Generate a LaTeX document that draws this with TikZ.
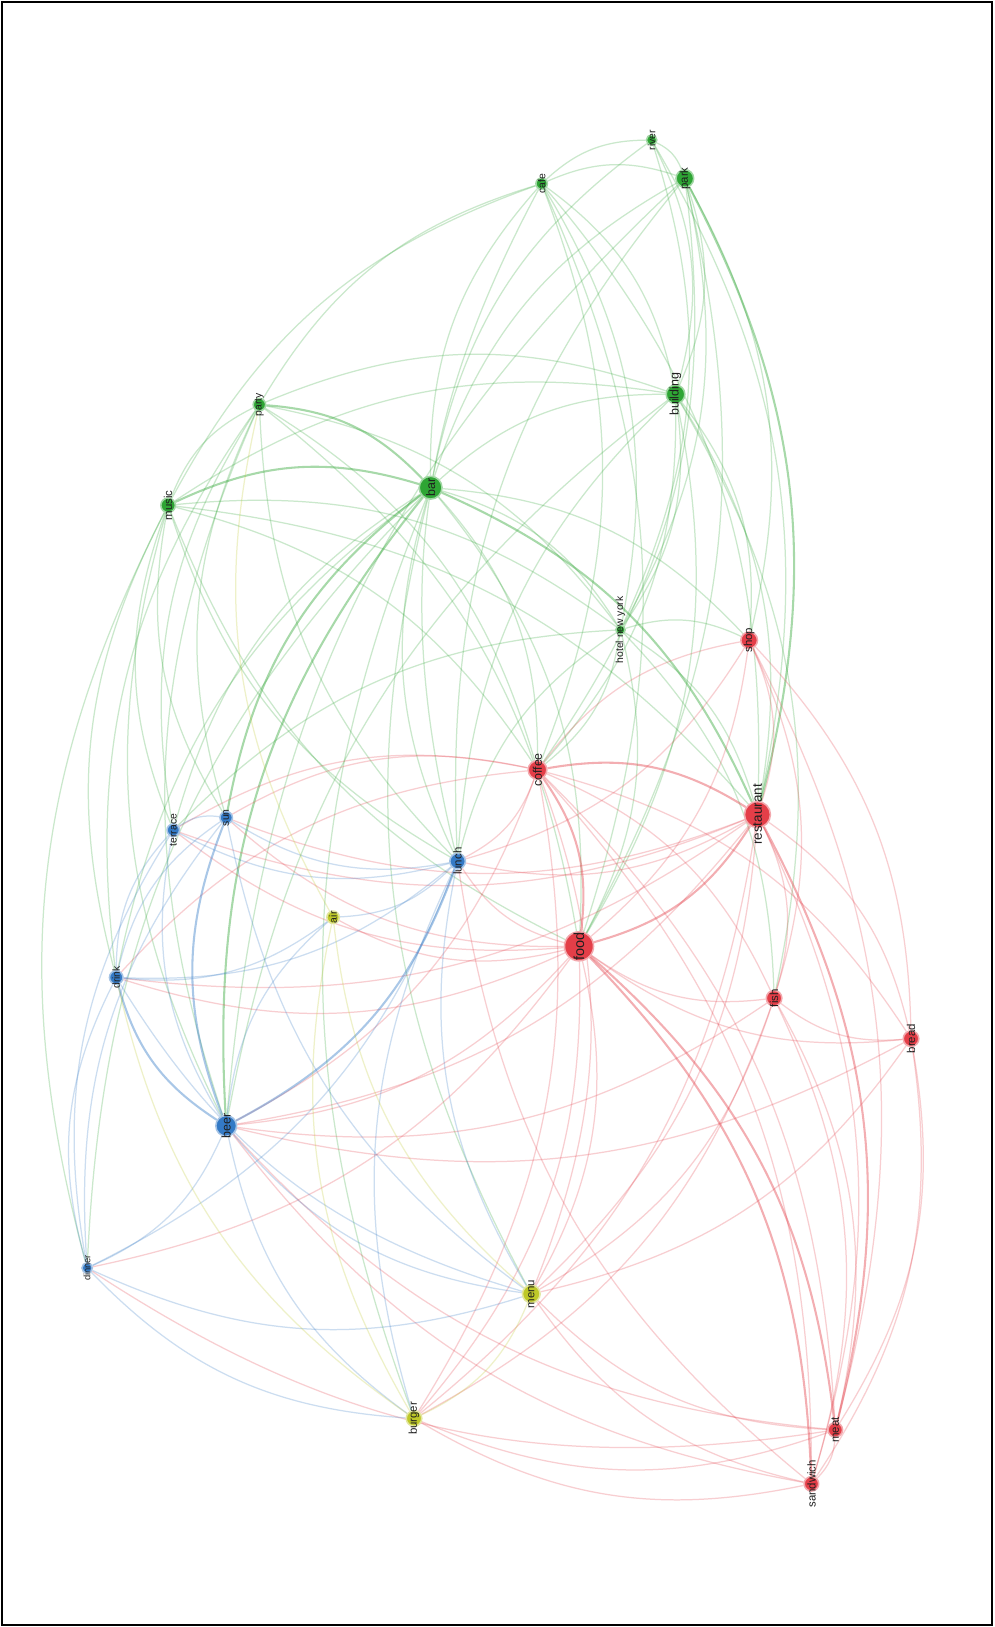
\documentclass[tikz,border=0pt]{standalone}
\usepackage{fontspec}
\setmainfont{Liberation Sans}
\pgfdeclarelayer{back}
\pgfdeclarelayer{bg}
\pgfsetlayers{back,bg,main}
\definecolor{cg}{RGB}{46,165,52}
\definecolor{cr}{RGB}{228,62,72}
\definecolor{cb}{RGB}{52,122,198}
\definecolor{cy}{RGB}{190,200,40}
\tikzset{
  dot/.style={circle, inner sep=0pt, draw=#1!45, line width=1.5pt, fill=#1},
  lbl/.style={rotate=90, text=black!88, inner sep=0pt},
  e/.style={draw=#1, draw opacity=0.25, line width=1.2pt},
  es/.style={draw=#1, draw opacity=0.42, line width=2pt},
  frame/.style={draw=black, line width=1.2pt}
}
\newcommand\place[7]{%
  \expandafter\def\csname nx#1\endcsname{#2}%
  \expandafter\def\csname ny#1\endcsname{#3}%
  \node[dot=#4, minimum size=#5pt] (#1) at (#2,#3) {};
  \node[lbl, font=\fontsize{#7}{#7}\selectfont] (#1-t) at (#1) {#6};
}
\newcommand\lnk[4][e]{%
  \pgfmathsetmacro\crs{((\csname nx#3\endcsname-480)/100)*((\csname ny#4\endcsname-\csname ny#3\endcsname)/100)-((\csname ny#3\endcsname-780)/100)*((\csname nx#4\endcsname-\csname nx#3\endcsname)/100)}%
  \pgfmathsetmacro\bnd{-21+42*(\crs>0)}%
  \begin{pgfonlayer}{bg}
  \draw[#1=#2] (#3) to[bend left=\bnd] (#4);
  \end{pgfonlayer}
}
\begin{document}
\begin{tikzpicture}[x=1pt,y=-1pt]
\useasboundingbox (0,0) rectangle (958,1568);
\begin{pgfonlayer}{back}
\fill[white] (0,0) rectangle (958,1568);
\end{pgfonlayer}
\draw[frame] (2,2) rectangle (956,1566);
% green
\place{river}{628}{135}{cg}{10}{river}{10}
\place{park}{660}{172}{cg}{17}{park}{11}
\place{cafe}{522}{177}{cg}{11}{cafe}{10}
\place{building}{651}{380}{cg}{18}{building}{12}
\place{party}{250}{390}{cg}{12}{party}{10}
\place{bar}{415}{470}{cg}{22}{bar}{12}
\place{music}{162}{487}{cg}{14}{music}{11}
\place{hotel}{598}{607}{cg}{9}{hotel new york}{10}
% red
\place{shop}{722}{617}{cr}{16}{shop}{11}
\place{coffee}{518}{742}{cr}{18}{coffee}{12}
\place{restaurant}{730}{785}{cr}{25}{restaurant}{13}
\place{food}{558}{912}{cr}{28}{food}{14}
\place{fish}{746}{962}{cr}{15}{fish}{11}
\place{bread}{878}{1001}{cr}{15}{bread}{11}
\place{meat}{805}{1378}{cr}{14}{meat}{11}
\place{sandwich}{782}{1430}{cr}{14}{sandwich}{11}
% blue
\place{terrace}{167}{800}{cb}{12}{terrace}{10}
\place{sun}{218}{788}{cb}{12}{sun}{10}
\place{lunch}{441}{830}{cb}{15}{lunch}{11}
\place{drink}{112}{942}{cb}{13}{drink}{10}
\place{beer}{218}{1085}{cb}{20}{beer}{12}
\place{dinner}{84}{1222}{cb}{10}{dinner}{9}
% yellow
\place{air}{321}{884}{cy}{12}{air}{10}
\place{menu}{512}{1247}{cy}{17}{menu}{11}
\place{burger}{399}{1367}{cy}{15}{burger}{11}
% ---- green links
\lnk[es]{cg}{bar}{music}
\lnk[es]{cg}{bar}{party}
\lnk{cg}{bar}{building}
\lnk{cg}{bar}{park}
\lnk{cg}{bar}{cafe}
\lnk{cg}{bar}{hotel}
\lnk{cg}{bar}{coffee}
\lnk[es]{cg}{bar}{restaurant}
\lnk{cg}{bar}{food}
\lnk{cg}{bar}{lunch}
\lnk[es]{cg}{bar}{sun}
\lnk{cg}{bar}{terrace}
\lnk{cg}{bar}{drink}
\lnk[es]{cg}{bar}{beer}
\lnk{cg}{bar}{dinner}
\lnk{cg}{bar}{menu}
\lnk{cg}{bar}{burger}
\lnk{cg}{bar}{river}
\lnk{cg}{bar}{shop}
\lnk{cg}{music}{party}
\lnk{cg}{music}{building}
\lnk{cg}{music}{drink}
\lnk{cg}{music}{dinner}
\lnk{cg}{music}{terrace}
\lnk{cg}{music}{sun}
\lnk{cg}{music}{beer}
\lnk{cg}{music}{coffee}
\lnk{cg}{music}{restaurant}
\lnk{cg}{music}{food}
\lnk{cg}{music}{lunch}
\lnk{cg}{music}{hotel}
\lnk{cg}{party}{cafe}
\lnk{cg}{party}{building}
\lnk{cg}{party}{hotel}
\lnk{cg}{party}{sun}
\lnk{cg}{party}{terrace}
\lnk{cg}{party}{beer}
\lnk{cg}{party}{food}
\lnk{cg}{party}{coffee}
\lnk{cg}{party}{lunch}
\lnk{cg}{party}{drink}
\lnk{cg}{cafe}{park}
\lnk{cg}{cafe}{river}
\lnk{cg}{cafe}{building}
\lnk{cg}{cafe}{coffee}
\lnk{cg}{cafe}{food}
\lnk{cg}{cafe}{restaurant}
\lnk{cg}{cafe}{hotel}
\lnk{cg}{cafe}{lunch}
\lnk{cg}{cafe}{music}
\lnk{cg}{park}{river}
\lnk{cg}{park}{building}
\lnk[es]{cg}{park}{restaurant}
\lnk{cg}{park}{hotel}
\lnk{cg}{park}{coffee}
\lnk{cg}{park}{food}
\lnk{cg}{park}{shop}
\lnk{cg}{park}{lunch}
\lnk{cg}{park}{beer}
\lnk{cg}{river}{building}
\lnk{cg}{river}{hotel}
\lnk{cg}{river}{restaurant}
\lnk{cg}{building}{hotel}
\lnk{cg}{building}{restaurant}
\lnk{cg}{building}{coffee}
\lnk{cg}{building}{food}
\lnk{cg}{building}{shop}
\lnk{cg}{building}{fish}
\lnk{cg}{building}{lunch}
\lnk{cg}{building}{beer}
\lnk{cg}{hotel}{coffee}
\lnk{cg}{hotel}{restaurant}
\lnk{cg}{hotel}{food}
\lnk{cg}{hotel}{shop}
\lnk{cg}{hotel}{lunch}
\lnk{cg}{hotel}{fish}
\lnk{cg}{hotel}{terrace}
% ---- red links
\lnk[es]{cr}{food}{restaurant}
\lnk[es]{cr}{food}{coffee}
\lnk{cr}{food}{lunch}
\lnk{cr}{food}{fish}
\lnk{cr}{food}{bread}
\lnk[es]{cr}{food}{meat}
\lnk[es]{cr}{food}{sandwich}
\lnk{cr}{food}{menu}
\lnk{cr}{food}{burger}
\lnk{cr}{food}{beer}
\lnk{cr}{food}{drink}
\lnk{cr}{food}{sun}
\lnk{cr}{food}{terrace}
\lnk{cr}{food}{shop}
\lnk{cr}{food}{dinner}
\lnk{cr}{food}{air}
\lnk[es]{cr}{restaurant}{coffee}
\lnk{cr}{restaurant}{shop}
\lnk{cr}{restaurant}{fish}
\lnk{cr}{restaurant}{bread}
\lnk[es]{cr}{restaurant}{meat}
\lnk{cr}{restaurant}{sandwich}
\lnk{cr}{restaurant}{lunch}
\lnk{cr}{restaurant}{menu}
\lnk{cr}{restaurant}{beer}
\lnk{cr}{restaurant}{burger}
\lnk{cr}{restaurant}{drink}
\lnk{cr}{restaurant}{terrace}
\lnk{cr}{restaurant}{sun}
\lnk{cr}{coffee}{shop}
\lnk{cr}{coffee}{lunch}
\lnk{cr}{coffee}{terrace}
\lnk{cr}{coffee}{sun}
\lnk{cr}{coffee}{drink}
\lnk{cr}{coffee}{beer}
\lnk{cr}{coffee}{menu}
\lnk{cr}{coffee}{burger}
\lnk{cr}{coffee}{bread}
\lnk{cr}{coffee}{fish}
\lnk{cr}{coffee}{meat}
\lnk{cr}{coffee}{sandwich}
\lnk{cr}{shop}{fish}
\lnk{cr}{shop}{bread}
\lnk{cr}{shop}{meat}
\lnk{cr}{shop}{lunch}
\lnk{cr}{fish}{bread}
\lnk{cr}{fish}{meat}
\lnk{cr}{fish}{sandwich}
\lnk{cr}{fish}{menu}
\lnk{cr}{fish}{beer}
\lnk{cr}{fish}{burger}
\lnk{cr}{bread}{meat}
\lnk{cr}{bread}{sandwich}
\lnk{cr}{bread}{menu}
\lnk{cr}{bread}{beer}
\lnk{cr}{meat}{sandwich}
\lnk{cr}{meat}{menu}
\lnk{cr}{meat}{burger}
\lnk{cr}{meat}{beer}
\lnk{cr}{meat}{dinner}
\lnk{cr}{sandwich}{menu}
\lnk{cr}{sandwich}{burger}
\lnk{cr}{sandwich}{beer}
\lnk{cr}{sandwich}{lunch}
% ---- blue links
\lnk[es]{cb}{beer}{drink}
\lnk{cb}{beer}{dinner}
\lnk[es]{cb}{beer}{sun}
\lnk{cb}{beer}{terrace}
\lnk[es]{cb}{beer}{lunch}
\lnk{cb}{beer}{menu}
\lnk{cb}{beer}{burger}
\lnk{cb}{beer}{air}
\lnk{cb}{drink}{dinner}
\lnk{cb}{drink}{terrace}
\lnk{cb}{drink}{sun}
\lnk{cb}{drink}{lunch}
\lnk{cb}{drink}{menu}
\lnk{cb}{drink}{air}
\lnk{cb}{sun}{terrace}
\lnk{cb}{sun}{lunch}
\lnk{cb}{sun}{dinner}
\lnk{cb}{sun}{menu}
\lnk{cb}{terrace}{lunch}
\lnk{cb}{terrace}{dinner}
\lnk{cb}{lunch}{menu}
\lnk{cb}{lunch}{dinner}
\lnk{cb}{lunch}{burger}
\lnk{cb}{lunch}{air}
\lnk{cb}{dinner}{menu}
\lnk{cb}{dinner}{burger}
% ---- yellow links
\lnk{cy}{menu}{burger}
\lnk{cy}{menu}{air}
\lnk{cy}{burger}{air}
\lnk{cy}{burger}{drink}
\lnk{cy}{air}{party}
\end{tikzpicture}
\end{document}
